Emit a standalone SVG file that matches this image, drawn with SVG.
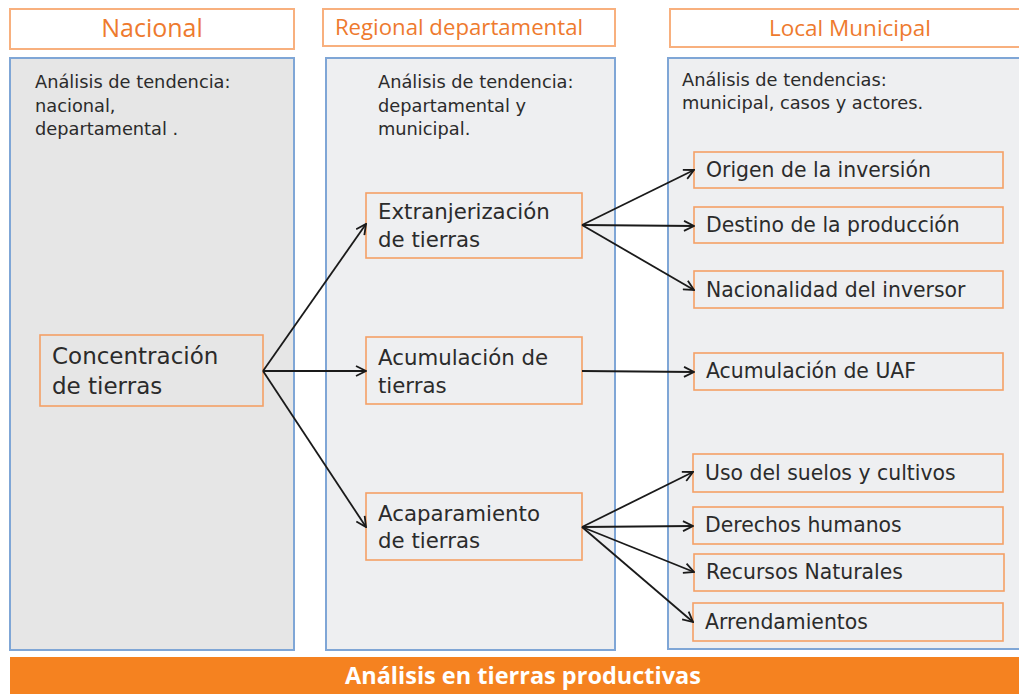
<svg xmlns="http://www.w3.org/2000/svg" width="1019" height="694" viewBox="0 0 1019 694">
<defs>
<marker id="arr" viewBox="0 0 12 12" refX="11" refY="6" markerWidth="12" markerHeight="12" markerUnits="userSpaceOnUse" orient="auto">
<path d="M1,1 L11,6 L1,11" fill="none" stroke="#1a1a1a" stroke-width="1.8"/>
</marker>
<style>
text{font-family:"DejaVu Sans","Open Sans",sans-serif;fill:#2b2b2b}
.hdr rect{fill:#fff;stroke:#F8B07E;stroke-width:2}
.hdr text{fill:#EE7A2E;font-family:"Open Sans","Liberation Sans",sans-serif}
.panel{stroke:#7FA6D6;stroke-width:2}
.ptxt{font-size:17.8px}
.node rect{fill:none;stroke:#F4A066;stroke-width:1.6}
.big{font-size:23px}
.mid{font-size:21.3px}
.sm{font-size:20.4px}
.conn line{stroke:#1a1a1a;stroke-width:1.8;marker-end:url(#arr)}
</style>
</defs>
<rect width="1019" height="694" fill="#fff"/>
<g id="hdr-nacional" class="hdr"><rect x="10" y="9" width="284" height="40"/><text x="152" y="37" text-anchor="middle" font-size="25">Nacional</text></g>
<g id="hdr-regional" class="hdr"><rect x="323" y="9" width="292" height="37"/><text x="459" y="35" text-anchor="middle" font-size="22.2">Regional departamental</text></g>
<g id="hdr-local" class="hdr"><rect x="670" y="9" width="355" height="38"/><text x="850" y="36" text-anchor="middle" font-size="22.5">Local Municipal</text></g>
<g id="panel-nacional"><rect class="panel" x="10" y="58" width="284" height="592" fill="#E6E6E6"/>
<text class="ptxt" x="35" y="88">Análisis de tendencia:</text><text class="ptxt" x="35" y="111.5">nacional,</text><text class="ptxt" x="35" y="135">departamental .</text></g>
<g id="panel-regional"><rect class="panel" x="326" y="58" width="289" height="592" fill="#EEEFF1"/>
<text class="ptxt" x="378" y="88">Análisis de tendencia:</text><text class="ptxt" x="378" y="111.5">departamental y</text><text class="ptxt" x="378" y="135">municipal.</text></g>
<g id="panel-local"><rect class="panel" x="668" y="58" width="360" height="591" fill="#EEEFF1"/>
<text class="ptxt" x="682" y="86">Análisis de tendencias:</text><text class="ptxt" x="682" y="109">municipal, casos y actores.</text></g>
<g id="bar"><rect x="10" y="657" width="1015" height="40" fill="#F58220"/><text x="523" y="684" text-anchor="middle" style="fill:#fff;font-weight:bold;font-size:23.5px;font-family:'Open Sans','Liberation Sans',sans-serif">Análisis en tierras productivas</text></g>
<g id="n-concentracion" class="node"><rect x="40" y="335" width="223" height="71"/><text class="big" x="52" y="364">Concentración</text><text class="big" x="52" y="394">de tierras</text></g>
<g id="n-extranjerizacion" class="node"><rect x="366" y="193" width="216" height="65"/><text class="mid" x="378" y="219">Extranjerización</text><text class="mid" x="378" y="247">de tierras</text></g>
<g id="n-acumulacion" class="node"><rect x="366" y="337" width="216" height="67"/><text class="mid" x="378" y="365">Acumulación de</text><text class="mid" x="378" y="393">tierras</text></g>
<g id="n-acaparamiento" class="node"><rect x="366" y="493" width="216" height="67"/><text class="mid" x="378" y="521">Acaparamiento</text><text class="mid" x="378" y="548">de tierras</text></g>
<g id="n-origen" class="node"><rect x="694" y="152" width="309" height="36"/><text class="sm" x="706" y="177">Origen de la inversión</text></g>
<g id="n-destino" class="node"><rect x="694" y="207" width="309" height="36"/><text class="sm" x="706" y="232">Destino de la producción</text></g>
<g id="n-nacionalidad" class="node"><rect x="694" y="271" width="309" height="37"/><text class="sm" x="706" y="297">Nacionalidad del inversor</text></g>
<g id="n-uaf" class="node"><rect x="694" y="353" width="309" height="37"/><text class="sm" x="706" y="378">Acumulación de UAF</text></g>
<g id="n-uso" class="node"><rect x="693" y="454" width="310" height="38"/><text class="sm" x="705" y="480">Uso del suelos y cultivos</text></g>
<g id="n-derechos" class="node"><rect x="693" y="507" width="310" height="37"/><text class="sm" x="705" y="532">Derechos humanos</text></g>
<g id="n-recursos" class="node"><rect x="694" y="554" width="310" height="37"/><text class="sm" x="706" y="579">Recursos Naturales</text></g>
<g id="n-arrendamientos" class="node"><rect x="693" y="603" width="310" height="38"/><text class="sm" x="705" y="629">Arrendamientos</text></g>
<g id="connectors" class="conn">
<line x1="263" y1="371" x2="366" y2="224"/>
<line x1="263" y1="371" x2="366" y2="371"/>
<line x1="263" y1="371" x2="366" y2="527"/>
<line x1="582" y1="225" x2="694" y2="170"/>
<line x1="582" y1="225" x2="694" y2="226"/>
<line x1="582" y1="225" x2="694" y2="290"/>
<line x1="582" y1="371" x2="694" y2="372"/>
<line x1="582" y1="527" x2="693" y2="472"/>
<line x1="582" y1="527" x2="693" y2="526"/>
<line x1="582" y1="527" x2="694" y2="572"/>
<line x1="582" y1="527" x2="693" y2="622"/>
</g>
</svg>
